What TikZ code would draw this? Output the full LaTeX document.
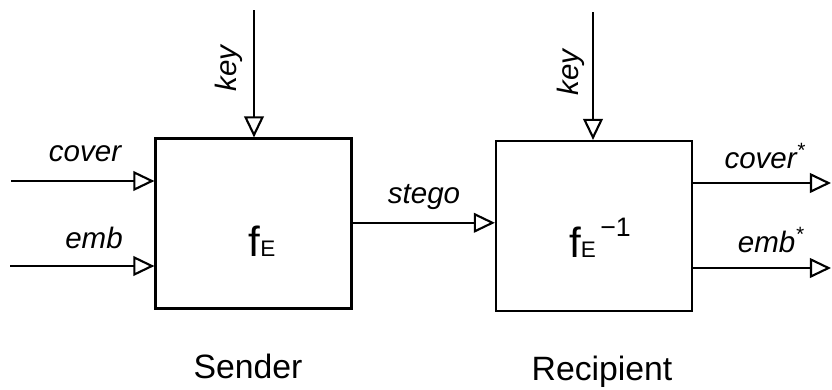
\documentclass[tikz,border=0pt]{standalone}
\usepackage{fontspec}
\setmainfont{Liberation Sans}
\usetikzlibrary{arrows.meta, positioning}

\begin{document}
\begin{tikzpicture}[
        x=0.025cm, y=-0.025cm,
        blk/.style={draw, line width=1.5pt, minimum width=4.9cm, minimum height=4.25cm, inner sep=0pt},
        arr/.style={-{Triangle[open, length=15pt, width=14pt]}, line width=1.5pt},
        lbl/.style={font=\fontsize{21}{24}\selectfont\itshape, inner sep=0pt},
        fn/.style={font=\fontsize{30}{34}\selectfont, inner sep=0pt},
        ttl/.style={font=\fontsize{24}{28}\selectfont, inner sep=0pt},
    ]
    \useasboundingbox (0,0) rectangle (832,389);

    %% Blocks
    \node[blk] (enc) at (253.5,223.5) {};
    \node[blk] (dec) at (594,226) {};
    \node[fn] (fenc) at (262,241) {f{\fontsize{16}{16}\selectfont E}};
    \node[fn] (fdec) at (600,238) {f{\fontsize{16}{16}\selectfont E}\raisebox{0.95ex}{\fontsize{19}{19}\selectfont\,−1}};

    %% Captions
    \node[ttl] (snd) at (248,366) {Sender};
    \node[ttl] (rcp) at (602,372) {Recipient};

    %% Free ends
    \coordinate (cin) at (11,181);
    \coordinate (ein) at (10,266);
    \coordinate (k1) at (254,10);
    \coordinate (k2) at (593,12);
    \coordinate (cout) at (831,183);
    \coordinate (eout) at (831,268);

    %% Sender inputs
    \draw[arr] (cin) -- (cin -| enc.west);
    \draw[arr] (ein) -- (ein -| enc.west);
    \draw[arr] (k1) -- (k1 |- enc.north);
    \node[lbl] (lcov) at (85,154) {cover};
    \node[lbl] (lemb) at (94,238) {emb};
    \node[lbl, rotate=90] (lk1) at (228.5,68.5) {key};

    %% Channel
    \draw[arr] ([yshift=0.5pt]enc.east) -- ([yshift=0.5pt]enc.east -| dec.west);
    \node[lbl] (lstg) at (424,197) {stego};

    %% Recipient
    \draw[arr] (k2) -- (k2 |- dec.north);
    \node[lbl, rotate=90] (lk2) at (570.5,72.5) {key};
    \draw[arr] (cout -| dec.east) -- (cout);
    \draw[arr] (eout -| dec.east) -- (eout);
    \node[lbl] (lcov2) at (765,156) {cover\textsuperscript{*}};
    \node[lbl] (lemb2) at (771,240) {emb\textsuperscript{*}};

\end{tikzpicture}
\end{document}
